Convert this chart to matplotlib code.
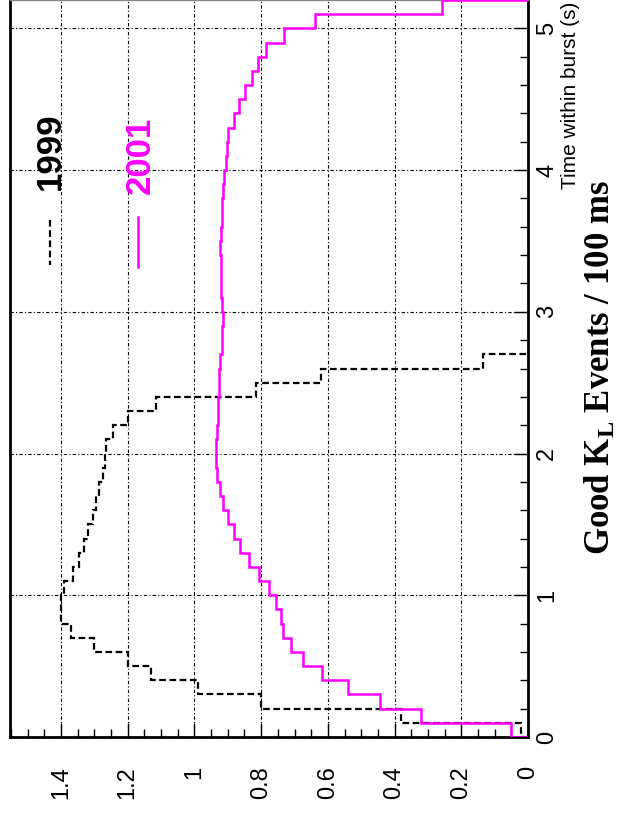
import numpy as np
import matplotlib
matplotlib.use("Agg")
import matplotlib.pyplot as plt
from matplotlib.ticker import MultipleLocator, FixedLocator

# ---------------- data ----------------
bin_width = 0.1
t_1999_end = 2.7
t_2001_end = 5.2
events_1999 = [0.02, 0.38, 0.80, 0.99, 1.13, 1.20, 1.30, 1.37, 1.40, 1.40,
               1.39, 1.365, 1.345, 1.33, 1.32, 1.305, 1.295, 1.285, 1.275, 1.268,
               1.265, 1.245, 1.20, 1.115, 0.815, 0.62, 0.134]
events_2001 = [0.05, 0.32, 0.444, 0.539, 0.619, 0.674, 0.712, 0.734, 0.742, 0.757,
               0.777, 0.806, 0.836, 0.864, 0.881, 0.899, 0.914, 0.924, 0.932, 0.935,
               0.936, 0.932, 0.930, 0.928, 0.927, 0.925, 0.922, 0.918, 0.916, 0.915,
               0.918, 0.920, 0.920, 0.921, 0.922, 0.921, 0.918, 0.916, 0.914, 0.912,
               0.906, 0.903, 0.899, 0.881, 0.866, 0.848, 0.828, 0.810, 0.784, 0.731,
               0.639, 0.259]
value_ticks = [0, 0.2, 0.4, 0.6, 0.8, 1.0, 1.2, 1.4]
value_tick_labels = ["0", "0.2", "0.4", "0.6", "0.8", "1", "1.2", "1.4"]
time_ticks = [0, 1, 2, 3, 4, 5]
time_tick_labels = ["0", "1", "2", "3", "4", "5"]
legend_labels = ["1999", "2001"]
xlabel_text = "Time within burst (s)"
ylabel_text = r"Good K$_\mathrm{L}$ Events / 100 ms"

edges_1999 = np.arange(len(events_1999) + 1) * bin_width
edges_2001 = np.arange(len(events_2001) + 1) * bin_width

# ---------------- style ----------------
plt.rcParams["font.family"] = ["Liberation Sans", "DejaVu Sans"]
plt.rcParams["mathtext.fontset"] = "custom"
plt.rcParams["mathtext.rm"] = "Liberation Serif:bold"
plt.rcParams["mathtext.it"] = "Liberation Serif:bold"
plt.rcParams["mathtext.bf"] = "Liberation Serif:bold"

W, H = 625, 813
fig = plt.figure(figsize=(W / 100, H / 100), dpi=100)

# axes in pixels: left 10, right 528, top 0, bottom 737
ax = fig.add_axes([10 / W, 1 - 737 / H, (528 - 10) / W, 737 / H])

MAGENTA = "#ff00ff"
ax.stairs(events_1999, edges_1999, orientation="horizontal", baseline=0,
          color="black", linestyle=(0, (3.0, 1.6)), linewidth=1.6, zorder=3)
ax.stairs(events_2001, edges_2001, orientation="horizontal", baseline=0,
          color=MAGENTA, linewidth=1.8, zorder=4)

ax.set_xlim(1.553, 0)
ax.set_ylim(0, t_2001_end)

# grid
grid_style = dict(color="black", linewidth=0.8, linestyle=(0, (3, 2, 1, 2)), zorder=1)
for v in value_ticks[1:]:
    ax.axvline(v, **grid_style)
for t in time_ticks[1:]:
    ax.axhline(t, **grid_style)

# value axis (bottom)
ax.xaxis.set_major_locator(FixedLocator(value_ticks))
ax.set_xticklabels(value_tick_labels)
ax.xaxis.set_minor_locator(MultipleLocator(0.05))
ax.tick_params(axis="x", which="both", direction="in", top=False, bottom=True,
               labelrotation=90, labelsize=17, pad=21, width=1.0)
ax.tick_params(axis="x", which="major", length=10)
ax.tick_params(axis="x", which="minor", length=6)

# time axis (right)
ax.yaxis.tick_right()
ax.yaxis.set_major_locator(FixedLocator(time_ticks))
ax.set_yticklabels(time_tick_labels)
ax.yaxis.set_minor_locator(MultipleLocator(0.2))
ax.tick_params(axis="y", which="both", direction="in", left=False, right=True,
               labelrotation=90, labelsize=17, pad=6, width=1.0)
ax.tick_params(axis="y", which="major", length=10)
ax.tick_params(axis="y", which="minor", length=6)
for lab in ax.get_yticklabels():
    lab.set_verticalalignment("center")

for side in ["left", "bottom", "right"]:
    ax.spines[side].set_linewidth(2.0)
    ax.spines[side].set_color("black")
ax.spines["top"].set_linewidth(1.0)
ax.spines["top"].set_color("#888888")

# axis titles
def px(x, y):
    return x / W, 1 - y / H

fig.text(*px(571, 2), xlabel_text, rotation=90, ha="center", va="top",
         fontsize=15, color="black")
fig.text(*px(601, 368), ylabel_text, rotation=90, ha="center", va="center",
         fontsize=25, fontweight="bold", family="Liberation Serif", color="black")

# legend (drawn by hand, rotated like the chart)
def axc(x, y):
    return (x - 10) / (528 - 10), (737 - y) / 737

ax.plot([axc(50, 220)[0]] * 2, [axc(50, 220)[1], axc(50, 265)[1]],
        transform=ax.transAxes, color="black", linestyle=(0, (3.0, 1.6)),
        linewidth=1.6, clip_on=False)
ax.text(*axc(50, 151), legend_labels[0], transform=ax.transAxes, rotation=90,
        ha="center", va="center", fontsize=25, fontweight="bold", color="black")
ax.plot([axc(138, 217)[0]] * 2, [axc(138, 217)[1], axc(138, 267)[1]],
        transform=ax.transAxes, color=MAGENTA, linewidth=1.8, clip_on=False)
ax.text(*axc(140, 155), legend_labels[1], transform=ax.transAxes, rotation=90,
        ha="center", va="center", fontsize=25, fontweight="bold", color=MAGENTA)

fig.savefig("out.png", dpi=100)
